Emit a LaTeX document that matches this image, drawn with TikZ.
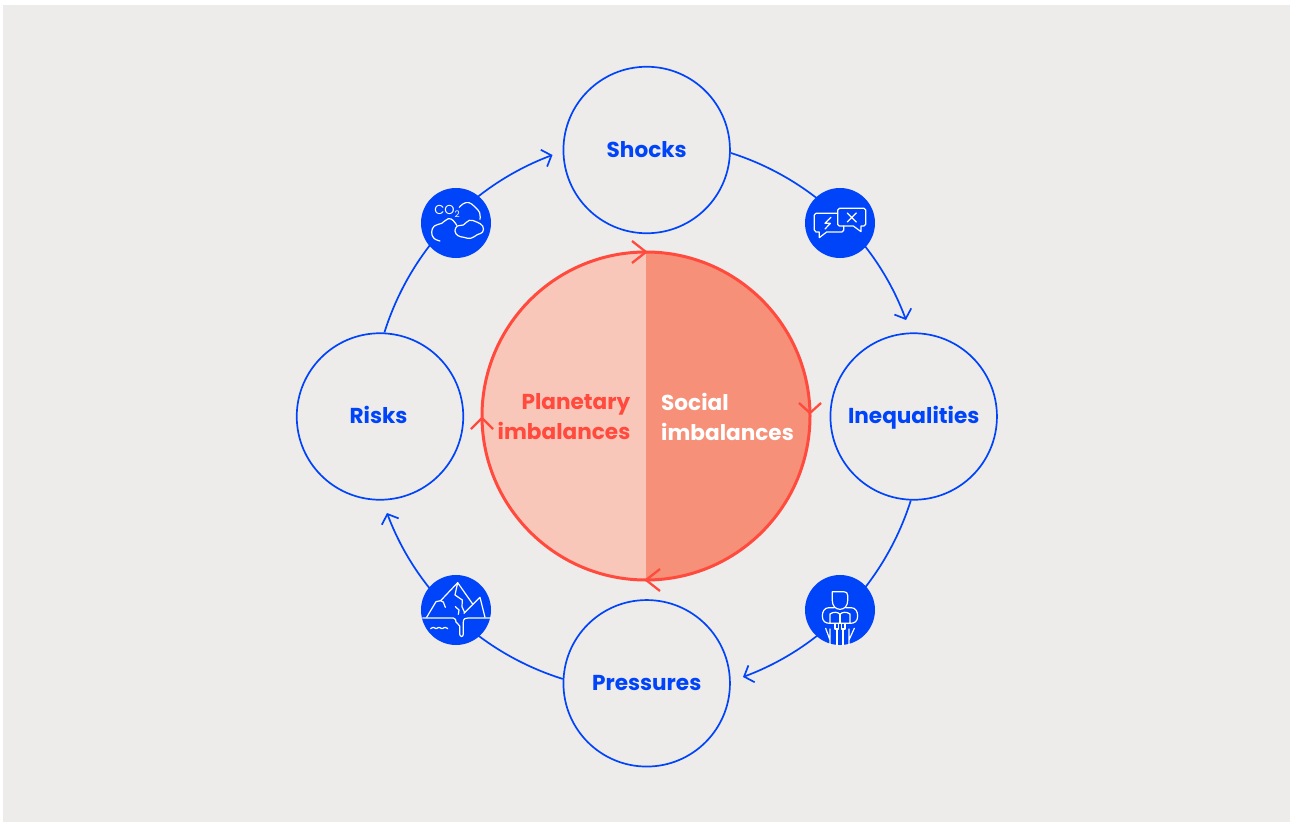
\documentclass[tikz,border=0pt]{standalone}
\usepackage{fontspec}
\setmainfont{Poppins}
\usetikzlibrary{arrows.meta}
\definecolor{bgc}{HTML}{EEECEA}
\definecolor{blu}{HTML}{0044FA}
\definecolor{redc}{HTML}{FF4A3D}
\definecolor{lightc}{HTML}{F9C7BA}
\definecolor{darkc}{HTML}{F69078}
\tikzset{
  stage/.style={circle,draw=blu,line width=1.7bp,minimum size=166.5bp,inner sep=0pt,text=blu,text height=14bp,text depth=0pt,font=\fontsize{21.6bp}{26bp}\selectfont\bfseries},
  link/.style={draw=blu,line width=1.7bp,-{Straight Barb[length=8bp,width=18bp,line width=1.7bp]},bend left=26,looseness=.9},
  badge/.style={circle,fill=blu,minimum size=70bp,inner sep=0pt},
  glyph/.style={draw=white,line width=1.2bp,line join=round,line cap=round},
  chev/.style={draw=redc,line width=2.3bp},
  heading/.style={font=\fontsize{21.6bp}{30bp}\selectfont\bfseries,inner sep=0pt},
}
\begin{document}
\begin{tikzpicture}[x=1bp,y=-1bp]
\useasboundingbox (0,0) rectangle (1294,822);
\fill[bgc] (3,5) rectangle (1290,822);
% central disc
\fill[lightc] (646,580) arc[start angle=90,end angle=270,radius=164] -- cycle;
\fill[darkc] (646,252) arc[start angle=-90,end angle=90,radius=164] -- cycle;
\node[circle,draw=redc,line width=3bp,minimum size=328bp,inner sep=0pt,outer sep=0pt] (core) at (646,416) {};
\draw[chev,shift={(core.north)}] (-14,-11) -- (0,0) -- (-14,11);
\draw[chev,shift={(core.east)}] (-11,-13) -- (0,-3) -- (11,-13);
\draw[chev,shift={(core.south)}] (14,-11) -- (0,0) -- (14,11);
\draw[chev,shift={(core.west)}] (-11,13) -- (0,2) -- (11,13);
\node[heading,text=redc,align=right,anchor=east] (planet) at (630.5,416.5) {Planetary\\imbalances};
\node[heading,text=white,align=left,anchor=west] (social) at (661,416.5) {Social\\imbalances};
% stages
\node[stage] (shocks) at (646.7,150) {Shocks};
\node[stage] (ineq) at (913.7,416.5) {Inequalities};
\node[stage] (press) at (646.7,683.3) {Pressures};
\node[stage] (risks) at (380,416.5) {\hspace{-3bp}Risks};
\coordinate (ineqin) at (906,320);
\coordinate (pressin) at (743,677);
\coordinate (risksin) at (387,513);
\coordinate (shocksin) at (552.5,155);
\draw[link] (shocks.-2) to (ineqin);
\draw[link] (ineq.-92) to (pressin);
\draw[link] (press.177) to (risksin);
\draw[link] (risks.87) to (shocksin);
% badges
\node[badge] (co) at (456,223) {};
\node[badge] (talk) at (840,223) {};
\node[badge] (person) at (840,610) {};
\node[badge] (ice) at (456,610) {};
% CO2 icon
\begin{scope}[shift={(400,170)},x=.3333bp,y=-.3333bp]
\node[text=white,inner sep=0pt,font=\fontsize{13bp}{13bp}\selectfont] (cotxt) at (141,124) {CO\raisebox{-2.5bp}{\fontsize{9bp}{9bp}\selectfont 2}};
\draw[glyph] plot[smooth,tension=.7] coordinates {(178,112) (190,101) (207,98) (224,110) (239,128) (240,148)};
\draw[glyph] plot[smooth,tension=.7] coordinates {(120,213) (102,205) (95,187) (103,168) (125,160) (145,146) (160,152) (170,166)};
\draw[glyph] plot[smooth cycle,tension=.7] coordinates {(165,183) (172,168) (190,165) (208,151) (230,156) (248,168) (248,186) (232,194) (212,205) (192,202) (174,197)};
\end{scope}
% speech icon
\begin{scope}[shift={(785,170)},x=.3333bp,y=-.3333bp]
\draw[glyph] (158,130) -- (93,130) -- (88,135) -- (88,180) -- (93,186) -- (103,186) -- (103,203) -- (125,186) -- (171,186) -- (176,181) -- (176,168);
\draw[glyph] (163,115) -- (237,115) -- (242,120) -- (242,163) -- (237,168) -- (228,168) -- (228,185) -- (205,168) -- (163,168) -- (158,163) -- (158,120) -- cycle;
\draw[glyph] (187,129) -- (214,156) (214,129) -- (187,156);
\draw[glyph] (138,142) -- (120,160) -- (136,160) -- (120,177);
\end{scope}
% person icon
\begin{scope}[shift={(785,560)},x=.3333bp,y=-.3333bp]
\draw[glyph] (142,95) -- (176,95) .. controls (184,95) and (188,99) .. (188,106) -- (188,122) .. controls (188,138) and (178,148) .. (165,148) .. controls (152,148) and (142,138) .. (142,122) -- cycle;
\draw[glyph] (148,143) -- (132,143) .. controls (118,143) and (112,155) .. (112,168) .. controls (112,185) and (122,190) .. (135,190);
\draw[glyph] (182,143) -- (198,143) .. controls (212,143) and (218,155) .. (218,168) .. controls (218,185) and (208,190) .. (195,190);
\draw[glyph] (135,190) -- (135,162) .. controls (145,155) and (158,155) .. (165,163) .. controls (172,155) and (185,155) .. (195,162) -- (195,190) -- cycle;
\draw[glyph] (165,163) -- (165,190);
\draw[glyph] (150,190) -- (150,207) -- (160,207) -- (160,190) (170,190) -- (170,207) -- (180,207) -- (180,190);
\draw[glyph] (122,205) -- (135,240) (208,205) -- (192,240) (135,207) -- (135,254) (192,207) -- (192,254);
\draw[glyph] (156,207) -- (156,255) (174,207) -- (174,255);
\end{scope}
% iceberg icon
\begin{scope}[shift={(400,560)},x=.3333bp,y=-.3333bp]
\draw[glyph] (68,174) -- (160,174) .. controls (168,174) and (167,182) .. (168,186) .. controls (170,194) and (178,190) .. (179,198) -- (179,222) .. controls (180,232) and (190,232) .. (190,222) -- (190,186) .. controls (190,176) and (196,174) .. (204,174) -- (272,174);
\draw[glyph] (80,172) -- (108,125) -- (122,122) -- (130,126) -- (136,142);
\draw[glyph] (122,122) -- (173,68) -- (218,132);
\draw[glyph] (173,68) -- (165,105) -- (187,120) -- (186,140) -- (194,158);
\draw[glyph] (192,160) -- (240,112) -- (255,172);
\draw[glyph] (166,140) -- (177,150) -- (175,163);
\draw[glyph] plot[smooth,tension=.6] coordinates {(92,206) (100,202) (108,206) (117,202) (126,206) (135,202) (143,206)};
\end{scope}
\end{tikzpicture}
\end{document}
